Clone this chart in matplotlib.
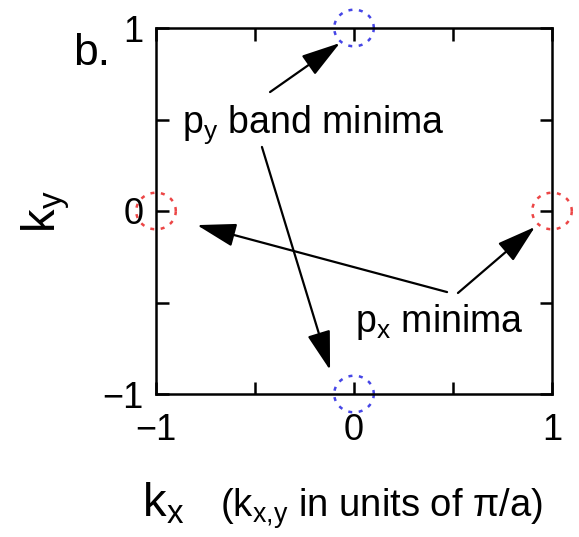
import numpy as np
import matplotlib
matplotlib.use("Agg")
import matplotlib.pyplot as plt

plt.rcParams['font.family'] = ['Liberation Sans', 'DejaVu Sans']
plt.rcParams['mathtext.fontset'] = 'custom'
plt.rcParams['mathtext.rm'] = 'Liberation Sans'
plt.rcParams['mathtext.it'] = 'Liberation Sans'
plt.rcParams['mathtext.default'] = 'rm'

# Band-minimum locations (k in units of pi/a)
py_minima_kx = [0.0, 0.0]
py_minima_ky = [1.0, -1.0]
px_minima_kx = [-1.0, 1.0]
px_minima_ky = [0.0, 0.0]
minimum_radius = 0.1

tick_values = [-1, -0.5, 0, 0.5, 1]
tick_labels = ['\u22121', '', '0', '', '1']

fig = plt.figure(figsize=(5.79, 5.37), dpi=100)
ax = fig.add_axes([156 / 579, 143 / 537, 396 / 579, 366 / 537])
ax.set_xlim(-1, 1)
ax.set_ylim(-1, 1)

theta = np.linspace(0, 2 * np.pi, 200)
for cx, cy in zip(py_minima_kx, py_minima_ky):
    ax.plot(cx + minimum_radius * np.cos(theta), cy + minimum_radius * np.sin(theta),
            color='#4646e6', lw=1.8, dashes=(1.6, 2.6), clip_on=False, zorder=1)
for cx, cy in zip(px_minima_kx, px_minima_ky):
    ax.plot(cx + minimum_radius * np.cos(theta), cy + minimum_radius * np.sin(theta),
            color='#ec4646', lw=1.8, dashes=(1.6, 2.6), clip_on=False, zorder=1)

ax.set_xticks(tick_values)
ax.set_xticklabels(tick_labels)
ax.set_yticks(tick_values)
ax.set_yticklabels(tick_labels)
ax.tick_params(direction='in', length=9, width=1.8, labelsize=26,
               top=True, right=True, pad=9)
ax.tick_params(axis='x', pad=14)
for s in ax.spines.values():
    s.set_linewidth(1.8)
    s.set_zorder(3)

arrow = dict(arrowstyle='-|>,head_length=1.1,head_width=0.33', color='black',
             lw=1.6, shrinkA=0, shrinkB=0, mutation_scale=22)

ax.text(-0.869, 0.426, r'p$_\mathregular{y}$ band minima', fontsize=27,
        ha='left', va='baseline')
ax.annotate('', xy=(-0.071, 0.918), xytext=(-0.424, 0.650), arrowprops=arrow)
ax.annotate('', xy=(-0.121, -0.869), xytext=(-0.465, 0.350), arrowprops=arrow)

ax.text(0.005, -0.661, r'p$_\mathregular{x}$ minima', fontsize=27,
        ha='left', va='baseline')
ax.annotate('', xy=(-0.793, -0.077), xytext=(0.470, -0.443), arrowprops=arrow)
ax.annotate('', xy=(0.914, -0.087), xytext=(0.525, -0.448), arrowprops=arrow)

fig.text(73 / 579, 1 - 65 / 537, 'b.', fontsize=32, ha='left', va='baseline')
fig.text(46 / 579, 1 - 212 / 537, r'k$_\mathregular{y}$', fontsize=34,
         rotation=90, ha='center', va='center')
fig.text(142 / 579, 1 - 517 / 537, r'k$_\mathregular{x}$', fontsize=34,
         ha='left', va='baseline')
fig.text(220 / 579, 1 - 517 / 537,
         r'(k$_\mathregular{x{,}y}$ in units of $\mathregular{\pi}$/a)',
         fontsize=27.5, ha='left', va='baseline')

fig.savefig('out.png', dpi=100)
